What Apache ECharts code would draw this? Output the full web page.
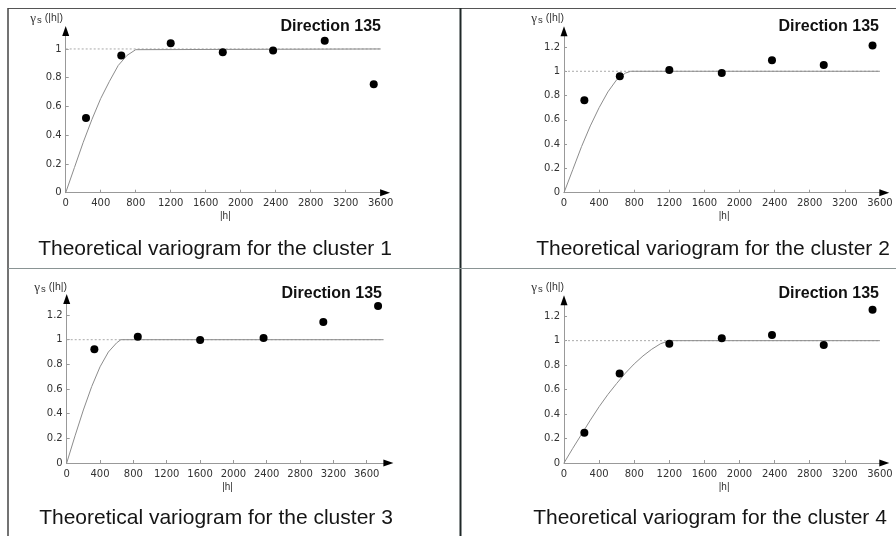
<!DOCTYPE html>
<html>
<head>
<meta charset="utf-8">
<script src="https://cdn.jsdelivr.net/npm/echarts@6/dist/echarts.min.js"></script>
<style>
  html, body { margin: 0; padding: 0; background: #fff; }
  #chart { width: 896px; height: 536px; }
</style>
</head>
<body>
<div id="chart"></div>
<script>
// Experimental semivariogram, direction 135: lag |h| and gamma for each cluster
const cluster1Lags  = [232, 635, 1200, 1795, 2370, 2960, 3520];
const cluster1Gamma = [0.52, 0.955, 1.04, 0.977, 0.99, 1.058, 0.755];
const cluster2Lags  = [232, 636, 1200, 1798, 2370, 2960, 3516];
const cluster2Gamma = [0.761, 0.959, 1.011, 0.986, 1.091, 1.052, 1.212];
const cluster3Lags  = [332, 853, 1601, 2362, 3079, 3736];
const cluster3Gamma = [0.922, 1.024, 0.997, 1.014, 1.143, 1.273];
const cluster4Lags  = [232, 634, 1200, 1798, 2370, 2960, 3516];
const cluster4Gamma = [0.247, 0.731, 0.975, 1.019, 1.046, 0.965, 1.253];

// Fitted (theoretical) model, sampled along the lag axis
const model1Lags  = [0, 100, 200, 300, 400, 500, 600, 700, 800, 820, 3600];
const model1Gamma = [0, 0.175, 0.35, 0.51, 0.655, 0.775, 0.885, 0.955, 0.995, 1, 1];
const model2Lags  = [0, 100, 200, 300, 400, 500, 600, 700, 760, 3600];
const model2Gamma = [0, 0.19, 0.38, 0.55, 0.70, 0.83, 0.93, 0.985, 1, 1];
const model3Lags  = [0, 100, 200, 300, 400, 500, 600, 650, 3800];
const model3Gamma = [0, 0.22, 0.43, 0.62, 0.78, 0.90, 0.975, 1, 1];
const model4Lags  = [0, 100, 200, 300, 400, 500, 600, 700, 800, 900, 1000, 1100, 1200, 3600];
const model4Gamma = [0, 0.12, 0.235, 0.35, 0.46, 0.56, 0.65, 0.735, 0.81, 0.875, 0.93, 0.975, 1, 1];

// Sill level and where its reference line ends
const sillLevel = 1;
const sillEnds = [3600, 3600, 3800, 3600];

// Tick labels
const lagTicks = [0, 400, 800, 1200, 1600, 2000, 2400, 2800, 3200, 3600];
const gammaTicksShort = [0, 0.2, 0.4, 0.6, 0.8, 1];
const gammaTicks = [0, 0.2, 0.4, 0.6, 0.8, 1, 1.2];

const titles = [
  'Theoretical variogram for the cluster 1',
  'Theoretical variogram for the cluster 2',
  'Theoretical variogram for the cluster 3',
  'Theoretical variogram for the cluster 4'
];
const directionLabel = 'Direction 135';

const lagsList = [cluster1Lags, cluster2Lags, cluster3Lags, cluster4Lags];
const gammaList = [cluster1Gamma, cluster2Gamma, cluster3Gamma, cluster4Gamma];
const modelLagsList = [model1Lags, model2Lags, model3Lags, model4Lags];
const modelGammaList = [model1Gamma, model2Gamma, model3Gamma, model4Gamma];

// Panel geometry (pixels) and axis extents
const layout = [
  { grid: { left: 65.7, top: 31.0, width: 319.4, height: 161.7 }, xMax: 3650, yMax: 1.125, yTicks: gammaTicksShort,
    titleX: 215, titleY: 239, dirX: 381, dirY: 19, nameX: 63, nameY: 12 },
  { grid: { left: 564, top: 31.2, width: 320.3, height: 161.5 }, xMax: 3650, yMax: 1.33, yTicks: gammaTicks,
    titleX: 713, titleY: 239, dirX: 879, dirY: 19, nameX: 564, nameY: 12 },
  { grid: { left: 66.7, top: 299.0, width: 321.7, height: 164.0 }, xMax: 3860, yMax: 1.33, yTicks: gammaTicks,
    titleX: 216, titleY: 508, dirX: 382, dirY: 286, nameX: 67, nameY: 281 },
  { grid: { left: 564, top: 300.3, width: 320.3, height: 162.7 }, xMax: 3650, yMax: 1.33, yTicks: gammaTicks,
    titleX: 710, titleY: 508, dirX: 879, dirY: 286, nameX: 564, nameY: 281 }
];

const pairs = (xs, ys) => xs.map((x, i) => [x, ys[i]]);
const plain = v => String(v);

const labelFont = { fontSize: 10, color: '#333', fontFamily: 'DejaVu Sans' };

const grids = [], xAxes = [], yAxes = [], series = [], graphics = [];

layout.forEach((p, i) => {
  grids.push(Object.assign({ containLabel: false }, p.grid));

  xAxes.push({
    gridIndex: i, type: 'value', min: 0, max: p.xMax,
    axisLine: { symbol: ['none', 'triangle'], symbolSize: [7, 10],
      lineStyle: { color: '#000', opacity: 0.4, width: 1 } },
    axisTick: { inside: true, length: 3, customValues: lagTicks, lineStyle: { color: '#999' } },
    axisLabel: Object.assign({ customValues: lagTicks, margin: 6, formatter: plain }, labelFont),
    splitLine: { show: false },
    name: '|h|', nameLocation: 'middle', nameGap: 19,
    nameTextStyle: { fontSize: 10, color: '#333', fontFamily: 'Liberation Sans' }
  });

  yAxes.push({
    gridIndex: i, type: 'value', min: 0, max: p.yMax,
    axisLine: { symbol: ['none', 'triangle'], symbolSize: [7, 10],
      lineStyle: { color: '#000', opacity: 0.4, width: 1 } },
    axisTick: { inside: true, length: 3, customValues: p.yTicks, lineStyle: { color: '#999' } },
    axisLabel: Object.assign({ customValues: p.yTicks, margin: 4, formatter: plain }, labelFont),
    splitLine: { show: false }
  });

  // sill reference
  series.push({
    type: 'line', xAxisIndex: i, yAxisIndex: i, silent: true, showSymbol: false, z: 1,
    data: [[0, sillLevel], [sillEnds[i], sillLevel]],
    lineStyle: { color: '#aaa', width: 1, type: [2, 2] }
  });
  // theoretical model
  series.push({
    type: 'line', xAxisIndex: i, yAxisIndex: i, silent: true, showSymbol: false, z: 2,
    data: pairs(modelLagsList[i], modelGammaList[i]),
    lineStyle: { color: '#8c8c8c', width: 1 }
  });
  // experimental points
  series.push({
    type: 'scatter', xAxisIndex: i, yAxisIndex: i, z: 3,
    symbol: 'circle', symbolSize: 8,
    itemStyle: { color: '#000', opacity: 1 },
    data: pairs(lagsList[i], gammaList[i])
  });

  graphics.push({
    type: 'text', x: p.titleX, y: p.titleY,
    style: { text: titles[i], fontSize: 21, fontFamily: 'Liberation Sans', fill: '#151515',
      align: 'center', verticalAlign: 'top' }
  });
  graphics.push({
    type: 'text', x: p.dirX, y: p.dirY,
    style: { text: directionLabel, fontSize: 16, fontWeight: 'bold', fontFamily: 'Liberation Sans',
      fill: '#111', align: 'right', verticalAlign: 'top' }
  });
  graphics.push({
    type: 'text', x: p.nameX, y: p.nameY,
    style: {
      text: '{g|γ}{s|s} (|h|)', fontSize: 10.5, fontFamily: 'Liberation Sans', fill: '#333',
      align: 'right', verticalAlign: 'top',
      rich: {
        g: { fontSize: 13, fontFamily: 'Liberation Serif', fill: '#333' },
        s: { fontSize: 9.5, fill: '#333', padding: [3, 0, 0, 1] }
      }
    }
  });
});

// frame and dividers between the four panels
graphics.push(
  { type: 'line', shape: { x1: 8, y1: 8.5, x2: 896, y2: 8.5 }, style: { stroke: '#555', lineWidth: 1 } },
  { type: 'line', shape: { x1: 8, y1: 8, x2: 8, y2: 536 }, style: { stroke: '#444', lineWidth: 1.5 } },
  { type: 'line', shape: { x1: 460.5, y1: 8, x2: 460.5, y2: 536 }, style: { stroke: '#1f2828', lineWidth: 2 } },
  { type: 'line', shape: { x1: 8, y1: 268.5, x2: 896, y2: 268.5 }, style: { stroke: '#8a9494', lineWidth: 1 } }
);

const chart = echarts.init(document.getElementById('chart'), null, { renderer: 'canvas' });
chart.setOption({
  animation: false,
  backgroundColor: '#fff',
  grid: grids,
  xAxis: xAxes,
  yAxis: yAxes,
  series: series,
  graphic: graphics
});
</script>
</body>
</html>
